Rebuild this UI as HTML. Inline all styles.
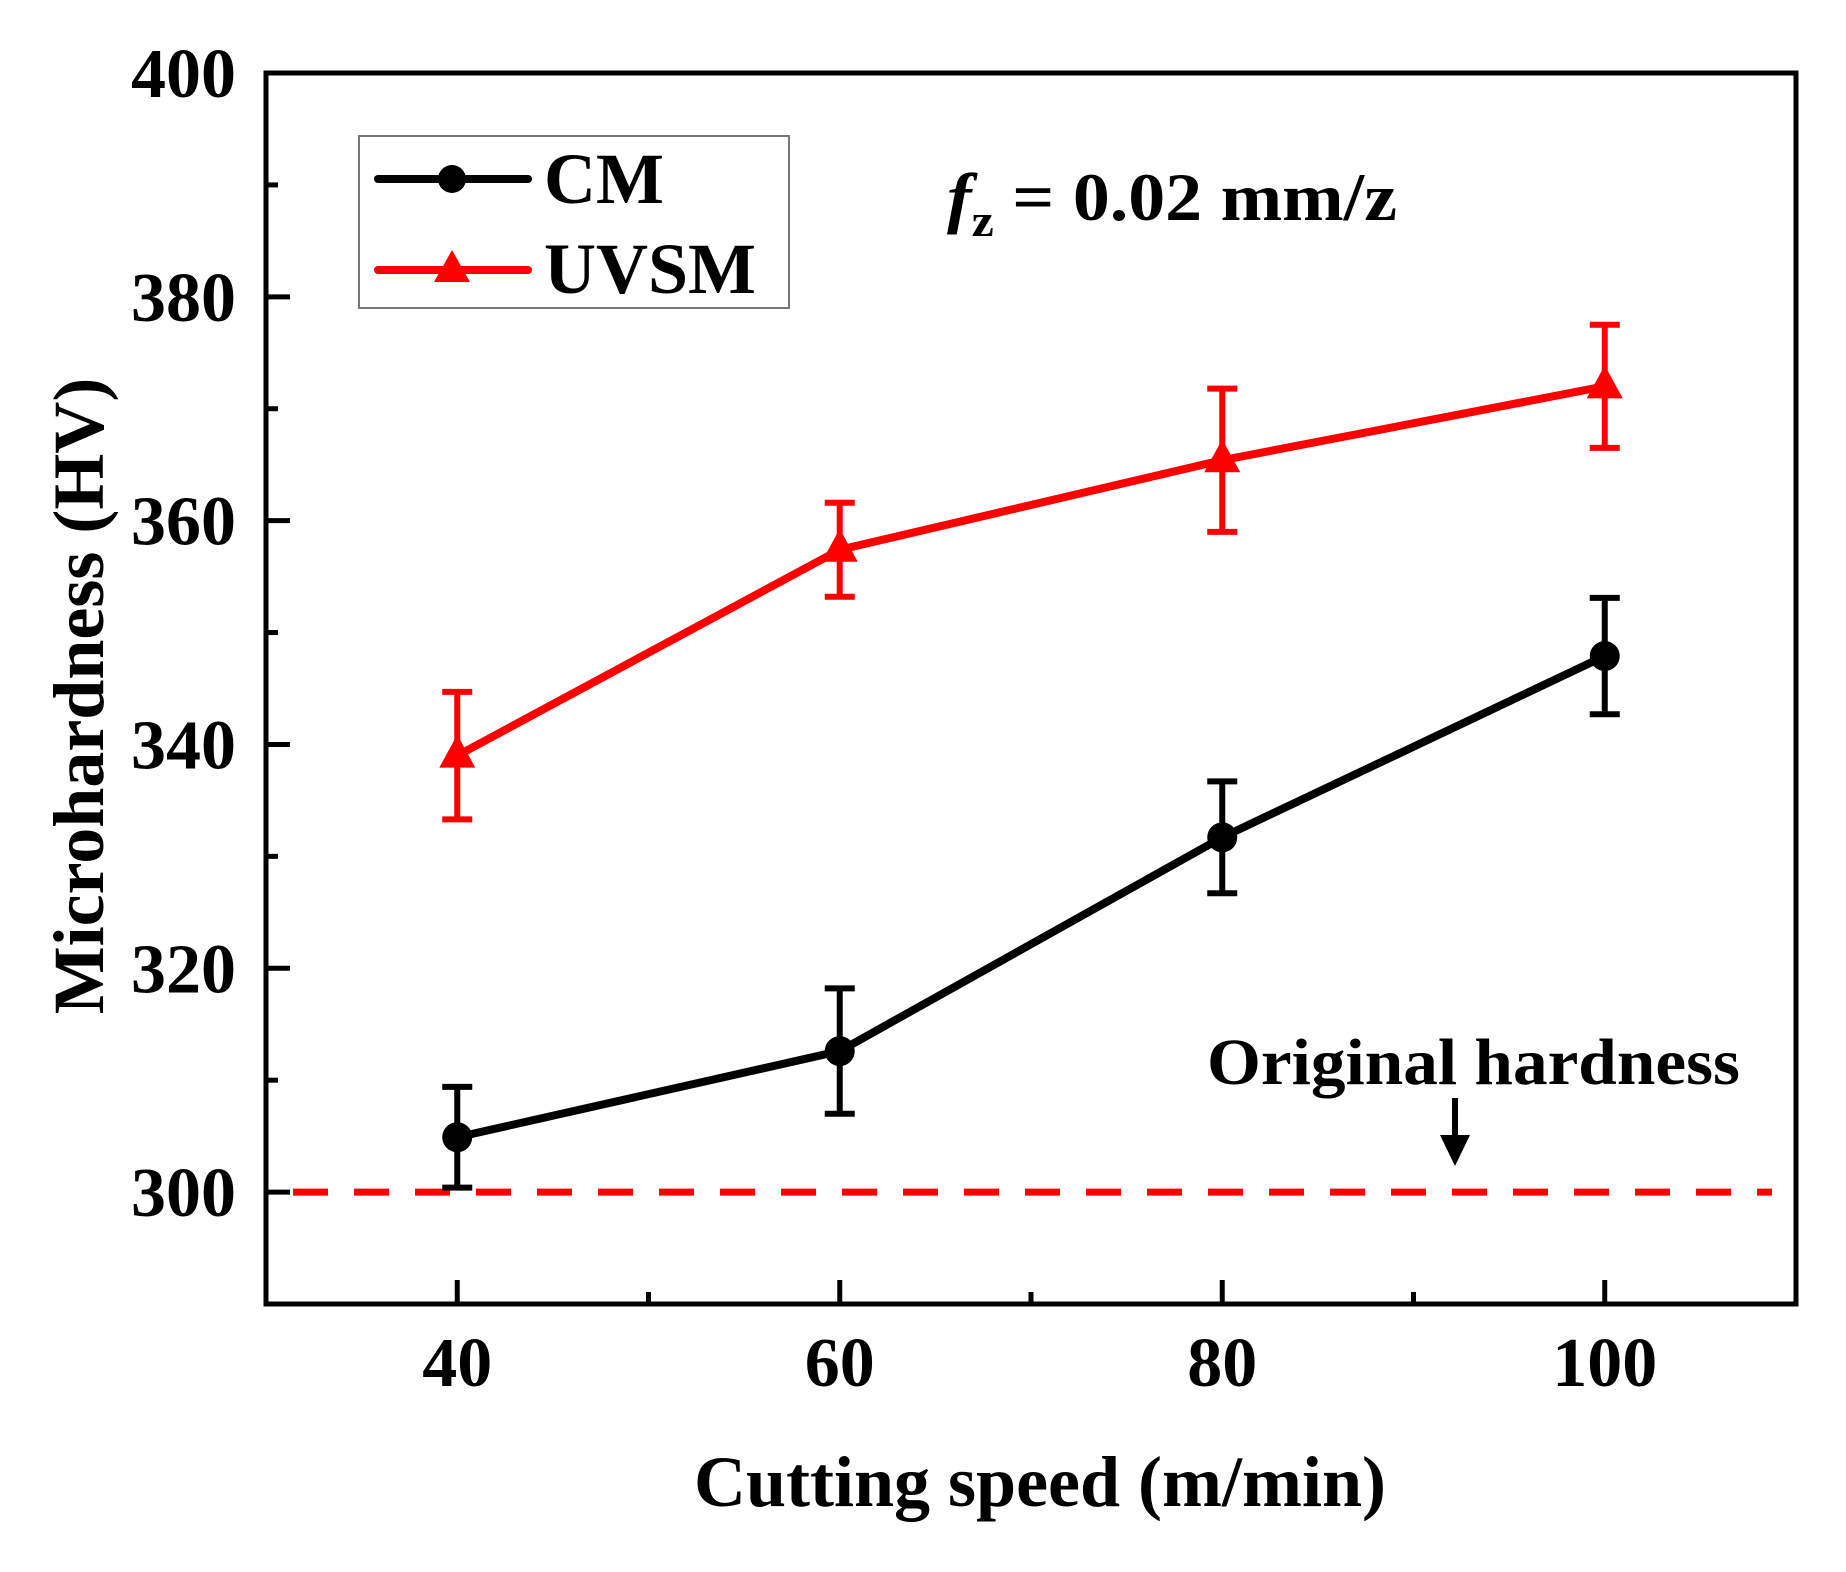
<!DOCTYPE html>
<html><head><meta charset="utf-8"><style>
html,body{margin:0;padding:0;background:#fff;}
svg{display:block;font-family:"Liberation Serif",serif;font-weight:bold;}
</style></head><body>
<svg id="chart" width="1846" height="1572" viewBox="0 0 1846 1572" xmlns="http://www.w3.org/2000/svg">
<g id="axes"></g>
<g id="series"></g>
<g>
  <rect x="359" y="136" width="430" height="172" fill="#fff" stroke="#777" stroke-width="2"/>
  <g>
    <line x1="378" y1="179" x2="528" y2="179" stroke="#000" stroke-width="8" stroke-linecap="round"/>
    <circle cx="452" cy="179" r="14" fill="#000"/>
    <text x="544" y="203" font-size="72">CM</text>
  </g>
  <g>
    <line x1="378" y1="270" x2="528" y2="270" stroke="#f00" stroke-width="8" stroke-linecap="round"/>
    <polygon points="452,250 470,282 434,282" fill="#f00"/>
    <text x="544" y="293" font-size="72">UVSM</text>
  </g>
</g>
<text x="947" y="220" font-size="68" textLength="450" lengthAdjust="spacingAndGlyphs"><tspan font-style="italic">f</tspan><tspan font-size="46" dy="16">z</tspan><tspan dy="-16"> = 0.02 mm/z</tspan></text>
<text x="1207" y="1084" font-size="66" textLength="533" lengthAdjust="spacingAndGlyphs">Original hardness</text>
<g>
  <line x1="1455" y1="1098" x2="1455" y2="1140" stroke="#000" stroke-width="6"/>
  <polygon points="1440,1135 1470,1135 1455,1166" fill="#000"/>
</g>
<text x="1040" y="1506" font-size="72" text-anchor="middle">Cutting speed (m/min)</text>
<text transform="translate(103,696) rotate(-90)" font-size="72" text-anchor="middle">Microhardness (HV)</text>
</svg>
<script>
const speeds = [40, 60, 80, 100];
const cmValues = [304.9, 312.6, 331.7, 347.9];
const cmErrors = [4.5, 5.6, 5.0, 5.2];
const uvsmValues = [339.0, 357.4, 365.4, 372.0];
const uvsmErrors = [5.7, 4.2, 6.4, 5.5];
const originalHardness = 300;
const xTicks = [40, 60, 80, 100];
const xMinorTicks = [50, 70, 90];
const yTicks = [300, 320, 340, 360, 380, 400];
const yMinorTicks = [290, 310, 330, 350, 370, 390];

const L = 266, R = 1796, T = 73, B = 1304;
const X0 = 30, X1 = 110, Y0 = 290, Y1 = 400;
function xs(v){ return L + (v - X0) / (X1 - X0) * (R - L); }
function ys(v){ return B - (v - Y0) / (Y1 - Y0) * (B - T); }
const NS = 'http://www.w3.org/2000/svg';
function mk(tag, attrs, parent){ const e = document.createElementNS(NS, tag); for (const k in attrs) e.setAttribute(k, attrs[k]); parent.appendChild(e); return e; }

const axes = document.getElementById('axes');
const frame = mk('rect', {x:L, y:T, width:R-L, height:B-T, fill:'none', stroke:'#000', 'stroke-width':5}, axes);


xTicks.forEach(v => {
  const t = mk('line', {x1:xs(v), x2:xs(v), y1:B, y2:B-24, stroke:'#000', 'stroke-width':5}, axes);
  
  
  const lb = mk('text', {x:xs(v), y:1386, 'font-size':70, 'text-anchor':'middle'}, axes);
  lb.textContent = v;
  
  
});
xMinorTicks.forEach(v => {
  const t = mk('line', {x1:xs(v), x2:xs(v), y1:B, y2:B-12, stroke:'#000', 'stroke-width':5}, axes);
  
  
});
yTicks.forEach(v => {
  const t = mk('line', {x1:L, x2:L+24, y1:ys(v), y2:ys(v), stroke:'#000', 'stroke-width':5}, axes);
  
  
  const lb = mk('text', {x:236, y:ys(v)+24, 'font-size':70, 'text-anchor':'end'}, axes);
  lb.textContent = v;
  
  
});
yMinorTicks.forEach(v => {
  const t = mk('line', {x1:L, x2:L+12, y1:ys(v), y2:ys(v), stroke:'#000', 'stroke-width':5}, axes);
  
  
});

const series = document.getElementById('series');
const ref = mk('line', {x1:293, x2:1772, y1:ys(originalHardness), y2:ys(originalHardness), stroke:'#f00', 'stroke-width':7, 'stroke-dasharray':'35 26'}, series);



function drawSeries(vals, errs, color, name, marker){
  const g = mk('g', {}, series);
  
  
  const pts = speeds.map((s,i) => xs(s) + ',' + ys(vals[i])).join(' ');
  const pl = mk('polyline', {points:pts, fill:'none', stroke:color, 'stroke-width':8, 'stroke-linejoin':'round'}, g);
  
  
  speeds.forEach((s,i) => {
    const x = xs(s), yt = ys(vals[i] + errs[i]), yb = ys(vals[i] - errs[i]);
    const eb = mk('path', {d:`M${x},${yt}V${yb}M${x-15},${yt}H${x+15}M${x-15},${yb}H${x+15}`, stroke:color, 'stroke-width':6, fill:'none'}, g);
    
    
    const y = ys(vals[i]);
    let m;
    if (marker === 'circle') m = mk('circle', {cx:x, cy:y, r:15, fill:color}, g);
    else m = mk('polygon', {points:`${x},${y-21} ${x+18},${y+12} ${x-18},${y+12}`, fill:color}, g);
    
    
  });
}
drawSeries(uvsmValues, uvsmErrors, '#f00', 'uvsm', 'triangle');
drawSeries(cmValues, cmErrors, '#000', 'cm', 'circle');
</script>
</body></html>
